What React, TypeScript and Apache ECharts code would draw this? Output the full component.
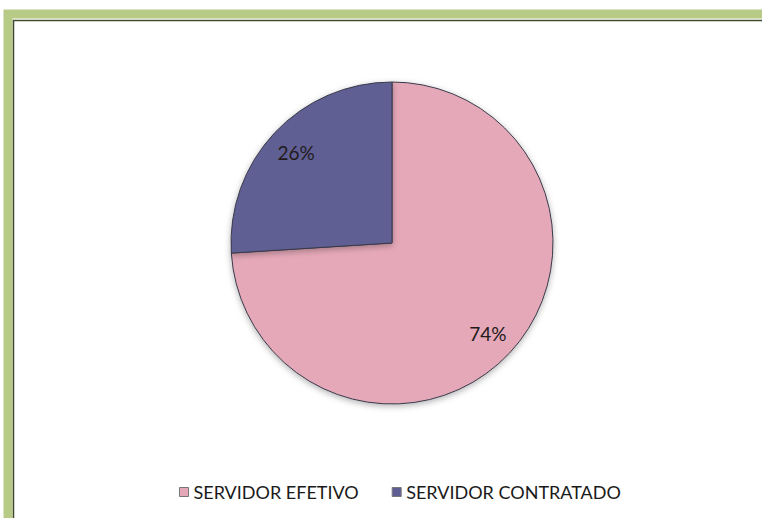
import React, { useEffect, useRef } from "react";
import * as echarts from "echarts";

const categories = ["SERVIDOR EFETIVO", "SERVIDOR CONTRATADO"];
const values = [74, 26];
const colors = ["#E5A8B8", "#5E5E94"];

export default function App() {
  const ref = useRef<HTMLDivElement>(null);
  useEffect(() => {
    const chart = echarts.init(ref.current!, undefined, { renderer: "svg" });
    const data = categories.map((name, i) => ({
      name,
      value: values[i],
      itemStyle: { color: colors[i] },
    }));
    chart.setOption({
      animation: false,
      backgroundColor: "#ffffff",
      graphic: [
        {
          type: "rect",
          shape: { x: 8, y: 14, width: 800, height: 560 },
          style: { fill: "none", stroke: "#B7CA86", lineWidth: 9 },
          silent: true,
        },
        {
          type: "rect",
          shape: { x: 13.5, y: 20.5, width: 800, height: 560 },
          style: { fill: "none", stroke: "#3F4A2C", lineWidth: 1.5 },
          silent: true,
        },
      ],
      legend: {
        data: categories,
        left: 174,
        top: 478,
        icon: "rect",
        itemWidth: 9,
        itemHeight: 9,
        itemGap: 33,
        itemStyle: { borderColor: "#777", borderWidth: 1 },
        textStyle: { fontFamily: "Lato", fontSize: 18, color: "#1a1a1a" },
      },
      series: [
        {
          type: "pie",
          center: [392, 243],
          radius: [0, 161],
          startAngle: 90,
          clockwise: true,
          label: { show: false },
          labelLine: { show: false },
          itemStyle: {
            borderColor: "#3a3a4a",
            borderWidth: 1,
            shadowBlur: 6,
            shadowColor: "rgba(0,0,0,0.3)",
            shadowOffsetY: 2,
          },
          data,
        },
        {
          type: "pie",
          center: [392, 243],
          radius: [96, 161],
          startAngle: 90,
          clockwise: true,
          silent: true,
          legendHoverLink: false,
          itemStyle: { color: "rgba(0,0,0,0)", borderWidth: 0 },
          label: {
            show: true,
            position: "inside",
            formatter: "{c}%",
            fontFamily: "Lato",
            fontSize: 19,
            color: "#221a1a",
          },
          labelLine: { show: false },
          data: categories.map((name, i) => ({ name, value: values[i] })),
        },
      ],
    });
    return () => chart.dispose();
  }, []);
  return (
    <div
      ref={ref}
      style={{ position: "fixed", left: 0, top: 0, width: 762, height: 518 }}
    />
  );
}
